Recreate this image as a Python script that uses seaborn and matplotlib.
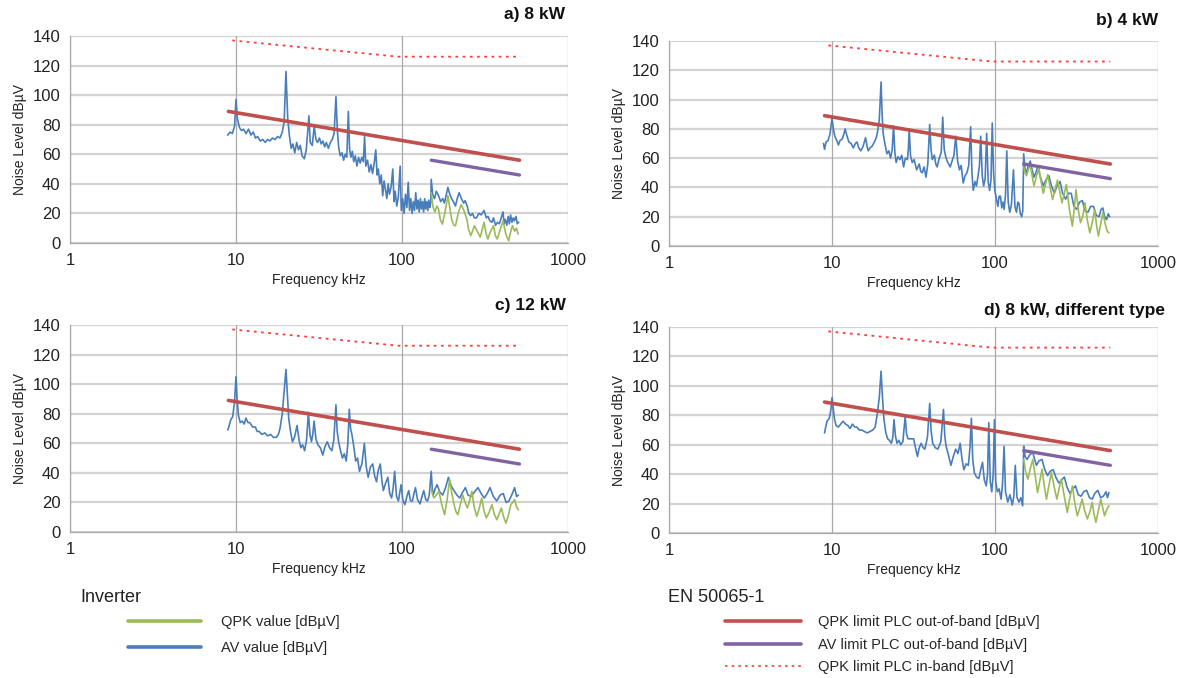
import matplotlib
matplotlib.use("Agg")
import matplotlib.pyplot as plt
from matplotlib.lines import Line2D
import seaborn as sns

# ---------------- data: (frequency kHz, level dBµV) ----------------
# a) 8 kW
a_av = [(8.9, 73), (9.2, 75), (9.5, 74), (9.8, 79), (10.0, 97), (10.2, 84), (10.5, 78), (10.8, 76),
        (11.1, 77), (11.5, 74), (11.9, 77), (12.3, 73), (12.7, 75), (13.1, 71), (13.5, 72), (14.0, 69),
        (14.5, 70), (15.0, 68), (15.5, 70), (16.0, 69), (16.6, 71), (17.2, 70), (17.8, 72), (18.4, 71),
        (19.0, 75), (19.5, 82), (20.0, 116), (20.5, 84), (21.0, 72), (21.5, 64), (22.0, 67), (22.6, 61),
        (23.2, 68), (23.8, 63), (24.4, 66), (25.0, 59), (25.8, 57), (26.5, 63), (27.5, 86), (28.0, 68),
        (28.8, 66), (29.6, 79), (30.3, 70), (31.0, 68), (31.8, 71), (32.6, 67), (33.4, 69), (34.2, 65),
        (35.0, 68), (36.0, 64), (37.0, 68), (38.0, 70), (39.0, 74), (40.0, 99), (40.8, 76), (41.6, 64),
        (42.5, 59), (43.5, 61), (44.5, 56), (45.5, 60), (46.5, 58), (47.5, 89), (48.3, 64), (49.2, 58),
        (50.2, 62), (51.2, 55), (52.3, 59), (53.5, 52), (54.7, 58), (56.0, 54), (57.2, 58), (58.5, 55),
        (59.5, 72), (60.5, 52), (62.0, 56), (63.5, 48), (65.0, 53), (66.5, 47), (68.0, 54), (69.5, 63),
        (70.8, 46), (72.0, 50), (73.5, 40), (75.0, 46), (76.5, 32), (78.0, 42), (79.5, 36), (81.0, 30),
        (82.5, 40), (84.0, 33), (86.0, 38), (88.0, 50), (89.5, 28), (91.0, 35), (93.0, 25), (95.0, 31),
        (97.5, 52), (99.0, 22), (101, 30), (103, 20), (105, 33), (107, 24), (109, 41), (111, 22),
        (113, 30), (115, 20), (117, 28), (119, 22), (121, 34), (123, 23), (125, 29), (127, 21), (129, 30),
        (131, 23), (133, 28), (135, 21), (137, 30), (139, 23), (141, 28), (143, 22), (145, 29), (147, 24),
        (149, 27), (150, 43), (153, 33), (157, 30), (161, 35), (166, 32), (171, 28), (176, 30), (180, 27),
        (185, 33), (189, 37.6), (194, 33), (199, 30), (204, 28), (210, 25), (215, 30), (221, 34),
        (228, 30), (235, 27), (240, 28.6), (247, 25), (253, 20), (259, 18.5), (266, 20), (273, 17),
        (281, 17), (290, 20), (300, 19), (312, 22), (322, 17), (330, 18), (338, 15), (348, 14), (356, 17),
        (366, 12), (376, 14), (386, 13), (396, 17), (406, 21), (412, 13), (418, 16), (428, 12), (436, 18),
        (444, 13), (451, 19), (460, 14), (468, 17), (476, 15), (486, 18), (495, 13), (505, 14)]
a_qp = [(150, 34), (154, 24), (158, 21), (162, 25), (166, 23), (170, 16), (175, 12.8), (181, 20),
        (189, 32), (194, 24), (199, 16), (205, 12), (210, 11.7), (218, 20), (227, 26), (236, 22),
        (246, 16), (252, 9), (259.5, 5), (266, 8), (273, 11.7), (284, 8), (296, 4), (304, 9), (312, 14),
        (320, 7), (329, 2.7), (342, 8), (356, 11.7), (365, 5), (375, 2.7), (390, 9), (406, 15), (422, 6),
        (439, 1.5), (450, 7), (463, 11.7), (478, 8), (490, 10), (501, 6)]

# b) 4 kW
b_av = [(8.87, 70), (9.0, 66), (9.2, 71), (9.45, 72), (9.7, 76), (10.0, 87), (10.2, 80), (10.4, 75),
        (10.7, 72), (10.95, 69), (11.2, 72), (11.54, 73), (11.8, 76), (12.04, 80), (12.3, 76),
        (12.69, 71), (13.1, 70), (13.52, 67), (13.9, 70), (14.25, 71), (14.6, 67), (15.02, 65),
        (15.5, 68), (16.08, 74), (16.4, 68), (16.69, 65), (17.1, 67), (17.59, 68), (18.2, 71), (18.7, 74),
        (19.03, 78), (19.5, 86), (20.0, 112), (20.3, 90), (20.59, 77), (21.1, 70), (21.71, 63),
        (22.3, 65), (22.88, 60), (23.4, 66), (23.86, 82), (24.3, 64), (24.75, 57), (25.4, 61), (26.1, 59),
        (26.8, 62), (27.5, 54), (28.2, 60), (29.0, 59), (29.4, 66), (29.77, 80), (30.3, 62), (31.05, 57),
        (31.9, 59), (33.07, 52), (34.3, 56), (35.0, 51), (35.78, 50), (36.7, 54), (37.72, 47), (38.7, 56),
        (39.75, 83), (40.5, 66), (41.24, 59), (42.5, 62), (43.3, 56), (44.16, 54), (45.5, 60), (46.8, 64),
        (47.78, 88), (48.8, 66), (49.84, 61), (51.3, 57), (53.08, 54), (54.5, 58), (56.0, 62),
        (57.44, 75), (59.0, 58), (60.53, 52), (62.0, 55), (63.81, 43), (65.5, 48), (67.25, 50), (69.0, 55),
        (70.88, 81.5), (72.2, 50), (73.55, 38), (75.5, 44), (77.0, 41), (78.76, 48), (80.3, 55),
        (81.7, 75), (83.5, 48), (85.2, 41), (87.0, 46), (88.9, 77), (90.8, 44), (92.7, 38), (94.5, 45),
        (96.2, 84), (98.0, 50), (99.8, 38), (102, 32), (104.1, 27), (106, 34), (108, 34), (110, 26),
        (112, 30), (113.8, 25), (116, 35), (118.1, 65), (120.5, 30), (123.2, 23), (126, 28), (129.8, 52),
        (132.5, 27), (135.4, 23), (138, 30), (140.4, 29), (143, 22), (145.7, 20), (148, 24), (150, 63),
        (153, 52), (156.1, 50), (160, 55), (164.5, 58), (169, 52), (173.4, 47), (178, 50), (182.7, 54),
        (190, 47), (197.8, 41), (205, 45), (214, 48), (222, 41), (231.5, 36), (240, 41), (250.6, 44),
        (260, 36), (271.2, 32), (282, 36), (293.4, 36), (305, 27), (317.5, 25), (330, 30), (343.6, 31),
        (357, 24), (371.8, 23), (386, 27), (402.3, 27), (418, 21), (435.4, 20), (447, 25), (458.9, 26),
        (470, 20), (483.7, 18), (495, 22), (505, 20)]
b_qp = [(150, 54), (153, 50), (156, 48), (160, 52), (164.5, 55.5), (169, 48), (173.4, 41), (179, 47),
        (185.6, 54), (191, 45), (197.8, 36), (204, 42), (210.6, 48.7), (218, 40), (225.5, 31.7),
        (233, 38), (241.5, 45), (249, 38), (257.3, 29.5), (265, 35), (274.1, 42), (286, 25),
        (298.1, 13.6), (306, 25), (314.2, 38.5), (324, 25), (334.6, 15.9), (345, 20), (356.5, 29.5),
        (368, 18), (381.7, 9), (395, 16), (408.8, 25), (420, 14), (430.8, 6.8), (445, 15), (458.9, 22.7),
        (475, 15), (488, 10), (500, 9)]

# c) 12 kW
c_av = [(8.92, 69), (9.1, 72), (9.31, 76), (9.55, 78), (9.8, 88), (10.0, 105), (10.15, 90),
        (10.34, 79), (10.6, 74), (10.9, 75), (11.2, 73), (11.48, 77), (11.8, 74), (12.1, 74), (12.6, 71),
        (13.09, 71), (13.4, 68), (13.8, 68), (14.3, 66), (14.93, 67), (15.5, 65), (16.15, 66), (16.8, 64),
        (17.47, 64), (18.0, 66), (18.41, 70), (19.0, 80), (19.5, 95), (20.0, 110), (20.4, 92),
        (20.77, 77), (21.3, 68), (21.89, 61), (22.5, 64), (23.32, 72), (24.0, 62), (24.58, 57),
        (25.2, 59), (25.9, 55), (26.6, 62), (27.3, 81), (27.9, 66), (28.47, 61), (29.0, 66), (29.54, 75),
        (30.3, 63), (31.13, 59), (32.2, 57), (33.32, 52), (34.4, 58), (35.49, 61), (36.6, 57), (37.8, 55),
        (38.8, 62), (40.0, 86), (40.7, 68), (41.53, 61), (42.6, 55), (43.77, 50), (44.9, 53),
        (46.13, 48), (47.2, 60), (48.12, 83), (49.0, 70), (49.9, 66), (51.2, 58), (52.6, 48), (54.0, 50),
        (55.43, 41), (57.3, 46), (59.35, 60), (60.9, 44), (62.55, 37), (64.5, 44), (66.63, 46),
        (68.4, 38), (70.22, 34), (72.0, 42), (74.0, 46), (75.6, 35), (77.2, 28), (79.6, 33), (82.2, 37),
        (84.3, 26), (86.6, 23), (88.5, 30), (90.3, 41), (92.7, 24), (95.2, 21), (97.0, 27), (98.7, 32),
        (101, 22), (104.1, 18.5), (107, 24), (109.7, 28), (112.5, 21), (115.6, 21), (118, 26),
        (120.5, 30), (124, 22), (128.4, 19), (132, 24), (135.3, 28), (139, 22), (142.6, 21), (146, 25),
        (150, 41), (152, 30), (154.3, 25), (158, 29), (162.6, 32), (169, 27), (175.9, 25), (183, 30),
        (190.4, 37), (198, 31), (205.9, 28), (214, 25), (222.8, 23), (232, 27), (241, 30), (250, 25),
        (260.8, 24), (273, 27), (286.6, 30), (300, 26), (313.3, 23), (326, 26), (339, 30), (355, 24),
        (372.6, 21), (390, 25), (407.4, 26), (424, 20), (440.8, 21), (458, 25), (476.9, 30), (490, 24),
        (502.5, 25)]
c_qp = [(150, 29.7), (153, 25), (155.9, 23), (161, 25), (167, 27.5), (173, 19), (180.6, 11.7),
        (187, 22), (193.4, 35.3), (199, 27), (205.9, 18.5), (211, 14), (217, 11.7), (224, 18),
        (232.3, 25), (240, 20), (247.5, 16.2), (255, 21), (263.6, 27.5), (272, 17), (282.1, 10.6),
        (292, 16), (302, 23), (311, 15), (321.7, 9.5), (334, 13), (348, 18.5), (360, 12), (372.6, 8.3),
        (384, 12), (396.8, 16.2), (410, 10), (422.7, 6), (437, 11), (452.4, 18.5), (465, 20),
        (476.9, 22), (490, 17), (502.5, 15)]

# d) 8 kW, different type
d_av = [(9.0, 68), (9.15, 72), (9.33, 76), (9.63, 78), (9.85, 84), (10.0, 92), (10.2, 84), (10.37, 77),
        (10.6, 73), (10.93, 72), (11.3, 74), (11.7, 76), (12.1, 74), (12.53, 73), (12.9, 71),
        (13.35, 74), (13.8, 72), (14.21, 72), (14.7, 70), (15.2, 70), (15.8, 69), (16.45, 68), (17.1, 69),
        (17.8, 70), (18.4, 72), (18.96, 81), (19.5, 92), (20.0, 110), (20.4, 92), (20.84, 77), (21.4, 68),
        (21.95, 64), (22.5, 63), (23.14, 61), (23.6, 65), (24.01, 77), (24.5, 66), (25.03, 61),
        (25.7, 63), (26.39, 60), (27.2, 62), (28.11, 79), (28.7, 67), (29.31, 64), (30.5, 64),
        (31.71, 64), (32.5, 58), (33.43, 52), (34.3, 58), (35.24, 61), (36.2, 58), (37.13, 57),
        (38.5, 65), (39.76, 88), (40.5, 70), (41.46, 61), (43.0, 58), (44.63, 57), (46.5, 62),
        (48.29, 84), (49.2, 66), (50.1, 59), (51.8, 53), (53.62, 46), (55.5, 52), (57.42, 57), (59.3, 54),
        (61.16, 61), (62.8, 50), (64.46, 43), (66.5, 47), (68.65, 46), (70.2, 58), (71.6, 78), (73.0, 50),
        (74.67, 41), (77.0, 38), (79.55, 37), (81.7, 43), (83.82, 48), (86.0, 36), (88.34, 32),
        (90.0, 40), (91.62, 75), (93.5, 35), (95.55, 28), (97.5, 40), (99.2, 77), (101, 35), (103.4, 28),
        (106, 30), (109, 23), (111, 32), (113.7, 59), (116, 28), (119.8, 21), (123.5, 26), (127.6, 19),
        (130.5, 25), (133.1, 46), (136.5, 24), (140.3, 21), (144, 24), (147.8, 18.5), (150, 59),
        (153, 52), (157.4, 50), (163, 53), (170.3, 55), (175, 50), (179.6, 46), (186, 49), (194.3, 50),
        (202, 43), (210.2, 39), (218, 42), (227.5, 43), (236, 38), (246.1, 34), (256, 36), (266.3, 38),
        (277, 31), (288.1, 27), (300, 30), (311.7, 32), (324, 26), (337.3, 25), (350, 28), (364.9, 29),
        (380, 24), (394.8, 23), (410, 27), (427.1, 29), (445, 24), (462.1, 25), (480, 28), (490, 24),
        (500, 27.5)]
d_qp = [(150, 50), (154, 42), (159.1, 36.6), (164, 43), (170.3, 50), (176, 40), (182.4, 27.5),
        (188, 35), (194.3, 43.3), (200, 33), (206.9, 23), (214, 32), (221.5, 41), (230, 32),
        (239.7, 23), (247, 30), (255.3, 36.6), (266, 25), (277.6, 14), (288, 24), (298.8, 32), (309, 20),
        (320, 11.7), (331, 17), (342.6, 23), (355, 15), (368.7, 9.5), (381, 14), (394.8, 20.8),
        (405, 13), (416, 7.2), (430, 15), (445.7, 23), (458, 17), (469.7, 11.7), (485, 16), (500, 18.5)]

# EN 50065-1 limits
lim_qpk_out = [(9, 89), (510, 56)]
lim_av_out = [(150, 56), (510, 46)]
lim_qpk_in = [(9.5, 137), (95, 126), (510, 126)]

titles = ["a) 8 kW", "b) 4 kW", "c) 12 kW", "d) 8 kW, different type"]
panels = [(a_av, a_qp), (b_av, b_qp), (c_av, c_qp), (d_av, d_qp)]
xticks = [1, 10, 100, 1000]
yticks = [0, 20, 40, 60, 80, 100, 120, 140]


def xy(pairs):
    return [p[0] for p in pairs], [p[1] for p in pairs]


# ---------------- style ----------------
sns.set_theme(style="white")
plt.rcParams["font.family"] = ["Liberation Sans", "DejaVu Sans"]

C_AV = "#4a7ebb"
C_QP = "#9bbb59"
C_RED = "#c0504d"
C_PUR = "#8064a2"
C_DOT = "#ff3b3b"
DOTS = (0, (1.5, 2.5))

W, H = 1181, 678
fig = plt.figure(figsize=(W / 100, H / 100), dpi=100)

rects = [(70, 36, 498, 207), (669, 41, 489, 205), (70, 325, 498, 207), (669, 327, 489, 206)]
title_pos = [(565, 15), (1158, 20), (566, 305), (1165, 310)]

for i, (rect, (av, qp)) in enumerate(zip(rects, panels)):
    x0, y0, w, h = rect
    ax = fig.add_axes([x0 / W, 1 - (y0 + h) / H, w / W, h / H])
    ax.set_xscale("log")
    ax.set_xlim(1, 1000)
    ax.set_ylim(0, 140)
    for yv in yticks:
        ax.axhline(yv, color="#d3d3d3", lw=1.6, zorder=0)
    for xv in xticks:
        ax.axvline(xv, color="#a8a8a8", lw=0.9, zorder=0)

    fx, fy = xy(av)
    sns.lineplot(x=fx, y=fy, ax=ax, color=C_AV, lw=1.2, estimator=None, sort=False, zorder=3)
    fx, fy = xy(qp)
    sns.lineplot(x=fx, y=fy, ax=ax, color=C_QP, lw=1.2, estimator=None, sort=False, zorder=4)
    fx, fy = xy(lim_qpk_out)
    sns.lineplot(x=fx, y=fy, ax=ax, color=C_RED, lw=2.6, estimator=None, sort=False, zorder=5)
    fx, fy = xy(lim_av_out)
    sns.lineplot(x=fx, y=fy, ax=ax, color=C_PUR, lw=2.4, estimator=None, sort=False, zorder=5)
    fx, fy = xy(lim_qpk_in)
    sns.lineplot(x=fx, y=fy, ax=ax, color=C_DOT, lw=1.3, estimator=None, sort=False, zorder=5,
                 linestyle=DOTS)

    ax.set_xticks(xticks)
    ax.set_xticklabels([str(t) for t in xticks])
    ax.minorticks_off()
    ax.set_yticks(yticks)
    ax.set_yticklabels([str(t) for t in yticks])
    ax.tick_params(axis="both", labelsize=12, length=4, color="#a8a8a8", colors="#222222", pad=3)
    for s in ["top", "right"]:
        ax.spines[s].set_visible(False)
    for s in ["left", "bottom"]:
        ax.spines[s].set_color("#a8a8a8")
        ax.spines[s].set_linewidth(0.9)
    ax.set_xlabel("Frequency kHz", fontsize=10, color="#222222", labelpad=4)
    ax.set_ylabel("Noise Level dBµV", fontsize=10, color="#222222", labelpad=4)
    tx, ty = title_pos[i]
    fig.text(tx / W, 1 - ty / H, titles[i], ha="right", va="center", fontsize=12.5,
             fontweight="bold", color="#111111")

# ---------------- legends ----------------
fig.text(80 / W, 1 - 597 / H, "Inverter", ha="left", va="center", fontsize=13, color="#222222")
fig.text(668 / W, 1 - 597 / H, "EN 50065-1", ha="left", va="center", fontsize=13, color="#222222")

h_inv = [Line2D([], [], color=C_QP, lw=2.6), Line2D([], [], color=C_AV, lw=2.6)]
l_inv = ["QPK value [dBµV]", "AV value [dBµV]"]
fig.legend(h_inv, l_inv, loc="upper left", bbox_to_anchor=(128 / W, 1 - 615 / H), frameon=False,
           fontsize=10.5, handlelength=5.0, handletextpad=1.4, labelspacing=0.85, borderpad=0,
           borderaxespad=0)

h_en = [Line2D([], [], color=C_RED, lw=2.6), Line2D([], [], color=C_PUR, lw=2.6),
        Line2D([], [], color=C_DOT, lw=1.2, linestyle=DOTS)]
l_en = ["QPK limit PLC out-of-band [dBµV]", "AV limit PLC out-of-band [dBµV]",
        "QPK limit PLC in-band [dBµV]"]
fig.legend(h_en, l_en, loc="upper left", bbox_to_anchor=(725 / W, 1 - 615 / H), frameon=False,
           fontsize=10.5, handlelength=5.2, handletextpad=1.2, labelspacing=0.6, borderpad=0,
           borderaxespad=0)

fig.savefig("out.png", dpi=100, facecolor="white")
